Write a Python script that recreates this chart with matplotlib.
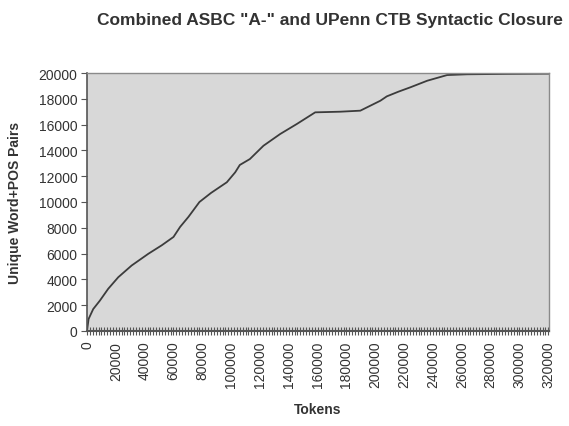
import matplotlib
matplotlib.use("Agg")
import matplotlib.pyplot as plt
from matplotlib.ticker import MultipleLocator

# Data
tokens = [0, 1100, 4300, 8900, 14700, 21700, 31000, 42600, 51800, 60000, 64600,
          70400, 78000, 86000, 97000, 102800, 106000, 113000, 122400, 134000,
          145600, 158300, 175700, 189600, 203500, 208000, 216000, 224300,
          236000, 249800, 263700, 290000, 320000]
pairs = [0, 930, 1700, 2350, 3270, 4170, 5080, 5990, 6640, 7290, 8070,
         8850, 10000, 10700, 11530, 12300, 12870, 13330, 14360, 15270,
         16050, 16950, 17000, 17080, 17850, 18190, 18550, 18890,
         19400, 19840, 19900, 19930, 19950]

x_ticks = list(range(0, 320001, 20000))
y_ticks = list(range(0, 20001, 2000))

title = 'Combined ASBC "A-" and UPenn CTB Syntactic Closure'
xlabel = "Tokens"
ylabel = "Unique Word+POS Pairs"

plt.rcParams['font.family'] = ['Liberation Sans', 'DejaVu Sans']

fig = plt.figure(figsize=(5.69, 4.27), dpi=100)
fig.patch.set_facecolor("white")
ax = fig.add_axes([87/569, 1-332/427, (549-87)/569, (332-74)/427])
ax.set_facecolor("#d8d8d8")

ax.plot(tokens, pairs, color="#3c3c3c", lw=1.3, solid_joinstyle="round")

ax.set_xlim(0, 320500)
ax.set_ylim(0, 20000)
ax.set_xticks(x_ticks)
ax.set_xticklabels([str(t) for t in x_ticks], rotation=90, fontsize=10, color="#333333")
ax.xaxis.set_minor_locator(MultipleLocator(2000))
ax.set_yticks(y_ticks)
ax.set_yticklabels([str(t) for t in y_ticks], fontsize=10, color="#333333")

ax.tick_params(axis="x", which="major", direction="inout", length=6, width=0.8,
               color="#555555", pad=4)
ax.tick_params(axis="x", which="minor", direction="inout", length=6, width=0.8,
               color="#555555")
ax.tick_params(axis="y", which="major", direction="out", length=4, width=0.8,
               color="#555555", pad=3)

for side in ["top", "right"]:
    ax.spines[side].set_color("#8a8a8a")
    ax.spines[side].set_linewidth(1.0)
ax.spines["left"].set_color("#555555")
ax.spines["bottom"].set_color("#555555")
ax.spines["left"].set_linewidth(1.2)
ax.spines["bottom"].set_linewidth(1.5)

ax.set_xlabel(xlabel, fontsize=10, fontweight="bold", color="#333333")
ax.set_ylabel(ylabel, fontsize=10, fontweight="bold", color="#333333")
ax.xaxis.set_label_coords(0.5, (332-410)/258)
ax.yaxis.set_label_coords((15-87)/462, 0.5)
ax.xaxis.label.set_va("center")
ax.yaxis.label.set_va("center")
fig.text(330/569, 1-20/427, title, ha="center", va="center", fontsize=12.5,
         fontweight="bold", color="#333333")

fig.savefig("out.png", dpi=100)
